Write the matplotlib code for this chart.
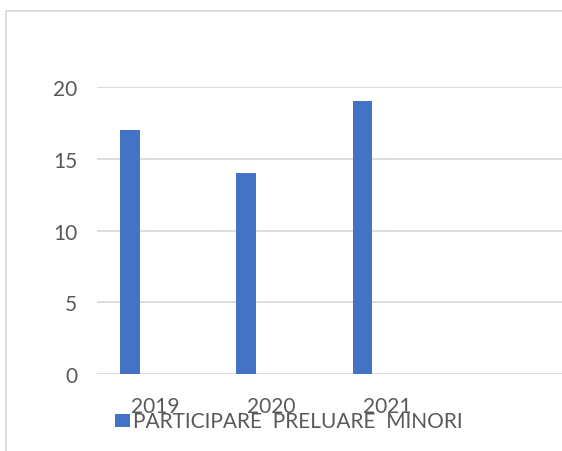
import matplotlib
matplotlib.use("Agg")
import matplotlib.pyplot as plt
from matplotlib.patches import Rectangle

categories = ["2019", "2020", "2021"]
values = [17, 14, 19]
series_name = "PARTICIPARE  PRELUARE  MINORI"
yticks = [0, 5, 10, 15, 20]

W, H = 562, 452
fig = plt.figure(figsize=(W / 100, H / 100), dpi=100)
plt.rcParams['font.family'] = ['Lato', 'DejaVu Sans']

# outer chart border (cropped on right and bottom)
fig.patches.append(Rectangle((6.5 / W, -0.1), 1.2, 1.1 - 12 / H,
                             transform=fig.transFigure, fill=False,
                             edgecolor='#d9d9d9', lw=1.3))

ax = fig.add_axes([96.7 / W, 1 - 375 / H, (W - 96.7) / W, 287 / H])
x = list(range(len(categories)))
bar_x = [i - 0.215 for i in x]
ax.bar(bar_x, values, width=0.168, color='#4472c4', zorder=3,
       label=series_name)
ax.set_xlim(-0.5, 3.5)
ax.set_ylim(0, 20)
ax.set_yticks(yticks)
ax.set_xticks(x)
ax.set_xticklabels(categories)
ax.grid(axis='y', color='#d9d9d9', lw=1.3, zorder=0)
for s in ax.spines.values():
    s.set_visible(False)
ax.tick_params(axis='both', length=0, labelsize=15, colors='#595959')
ax.tick_params(axis='x', pad=16)
ax.tick_params(axis='y', pad=14)

fig.legend(loc='center left', bbox_to_anchor=(115 / W, 1 - 422.5 / H),
           frameon=False, borderpad=0, borderaxespad=0,
           fontsize=15, labelcolor='#595959',
           handlelength=0.70, handleheight=0.6, handletextpad=0.15)

fig.savefig("out.png", dpi=100)
